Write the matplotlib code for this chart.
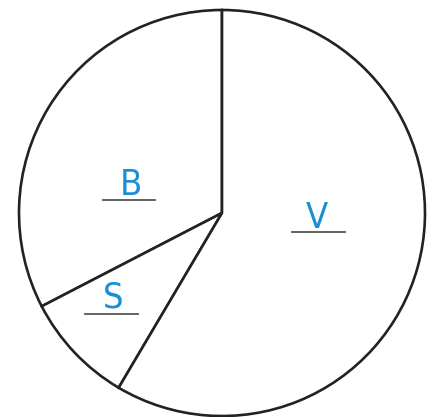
import matplotlib
matplotlib.use("Agg")
import matplotlib.pyplot as plt

categories = ["B", "S", "V"]
values = [32.6, 8.9, 58.5]

# label placement (pixel coords of figure, y from top)
label_pos = {"B": (131, 185), "S": (113, 298), "V": (317, 218)}
underline = {"B": (103, 155, 200), "S": (85, 138, 314), "V": (292, 345, 232)}

W, H = 435, 417
fig = plt.figure(figsize=(W / 100, H / 100), dpi=100)
ax = fig.add_axes([0, 0, 1, 1])

cx, cy, r = 222, H - 213, 203
wedges, _ = ax.pie(values, startangle=90, counterclock=True, center=(cx, cy), radius=r,
                   colors=["white"] * 3,
                   wedgeprops=dict(edgecolor="#222222", linewidth=1.9))
ax.set_xlim(0, W)
ax.set_ylim(0, H)
ax.set_aspect("equal")
ax.set_axis_off()

for cat in categories:
    x, y = label_pos[cat]
    ax.text(x, H - y, cat, ha="center", va="center", color="#1a8fd6",
            fontsize=26, fontweight="light", fontstretch="condensed",
            family=["DejaVu Sans", "Roboto"])
    x0, x1, yl = underline[cat]
    ax.plot([x0, x1], [H - yl, H - yl], color="#555555", linewidth=1.3)

fig.savefig("out.png", dpi=100)
